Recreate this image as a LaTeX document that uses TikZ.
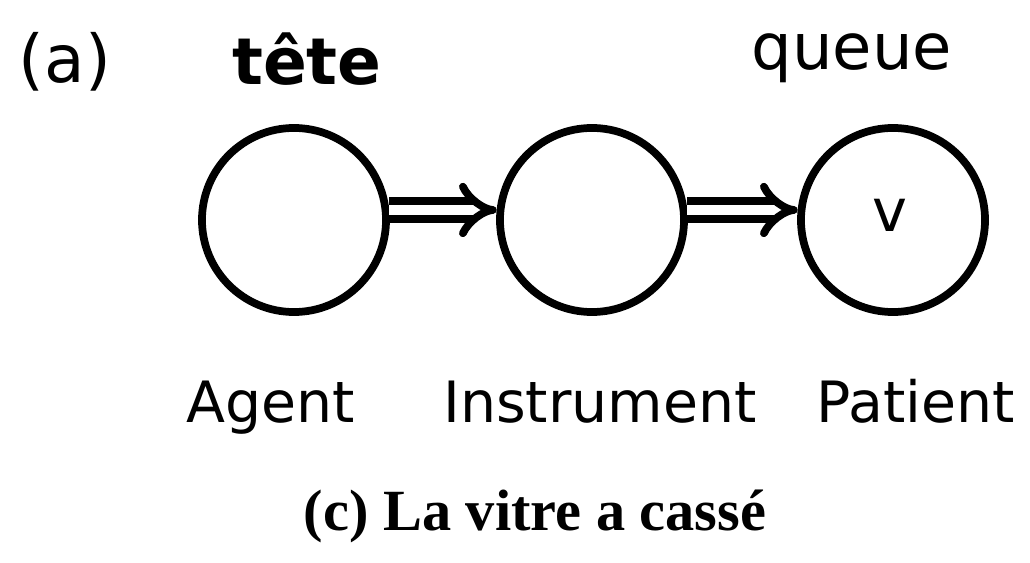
\documentclass[tikz,border=0pt]{standalone}
\usepackage{fontspec}
\setmainfont{DejaVu Sans}
\newfontfamily\legendefont{Liberation Serif}
\usetikzlibrary{arrows.meta}

\begin{document}
\begin{tikzpicture}[x=0.025cm, y=-0.025cm,
    role/.style={circle, draw, line width=5.5pt, minimum size=4.6cm},
    lien/.style={line width=5.5pt, double distance=7pt, -{Implies}},
    etiquette/.style={anchor=base, font=\fontsize{40.5}{48}\selectfont}]
    \useasboundingbox (0,0) rectangle (1030,563);
    % les trois rôles, de la tête vers la queue
    \foreach \nom/\x in {agent/294, instrument/592, patient/893} {
        \node[role] (\nom) at (\x,220) {};
    }
    \node[anchor=base, font=\fontsize{42}{48}\selectfont] (v) at (890,232) {v};
    \foreach \a/\b in {agent/instrument, instrument/patient} {
        \draw[lien] (\a.6) -- (\b.174);
    }
    \node[etiquette] (lagent) at (271,422) {Agent};
    \node[etiquette] (linstrument) at (600,422) {Instrument};
    \node[etiquette] (lpatient) at (916,422) {Patient};
    \node[anchor=base, font=\fontsize{47}{52}\selectfont] (a) at (65,83) {(a)};
    \node[anchor=base, font=\fontsize{46}{52}\selectfont\bfseries] (tete) at (307,85) {tête};
    \node[anchor=base, font=\fontsize{45.5}{52}\selectfont] (queue) at (852,70) {queue};
    \node[anchor=base, font=\legendefont\bfseries\fontsize{41.5}{48}\selectfont] (legende) at (535,530) {(c) La vitre a cassé};
\end{tikzpicture}
\end{document}
